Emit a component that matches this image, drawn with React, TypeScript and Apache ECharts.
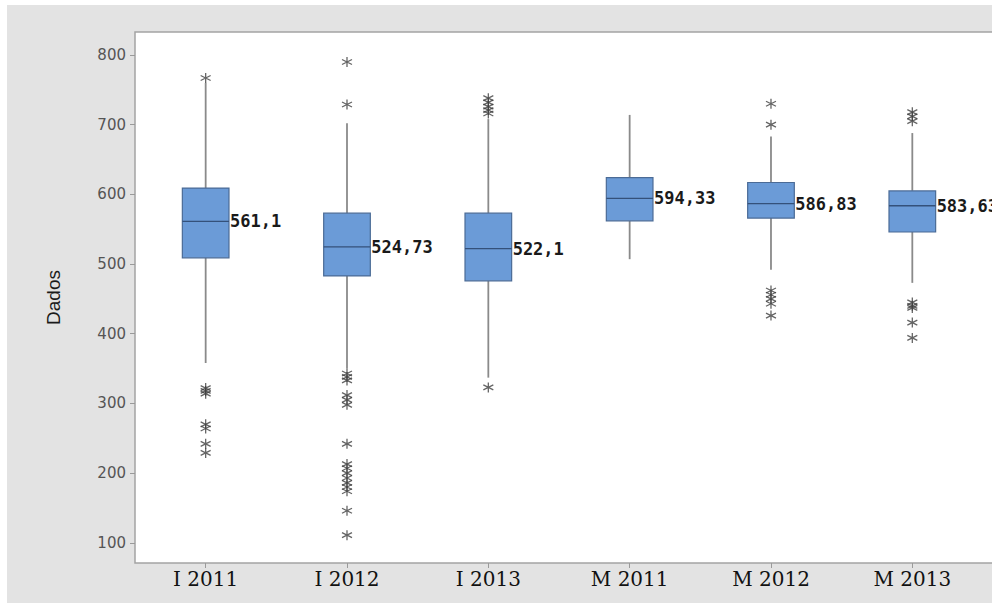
import React, { useEffect, useRef } from "react";
import * as echarts from "echarts";

const categories = ["I 2011", "I 2012", "I 2013", "M 2011", "M 2012", "M 2013"];
const whiskerLow = [358, 350, 337, 507, 492, 473];
const q1 = [509, 483, 476, 562, 566, 546];
const medians = [561.1, 524.73, 522.1, 594.33, 586.83, 583.63];
const q3 = [609, 573, 573, 624, 617, 605];
const whiskerHigh = [760, 702, 708, 714, 683, 688];
const outliers: number[][] = [
  [767, 322, 318, 314, 270, 264, 242, 229],
  [790, 729, 343, 338, 333, 312, 305, 298, 242, 213, 207, 200, 193, 186, 180, 174, 146, 111],
  [738, 732, 726, 721, 716, 323],
  [],
  [730, 700, 462, 456, 450, 443, 426],
  [718, 712, 705, 445, 440, 437, 416, 394],
];
const yMin = 71;
const yMax = 833;
const yAxisTitle = "Dados";

const STAR = "path://M0,-5L0,5M-4.33,-2.5L4.33,2.5M-4.33,2.5L4.33,-2.5";

export default function App() {
  const ref = useRef<HTMLDivElement>(null);
  useEffect(() => {
    if (!ref.current) return;
    const chart = echarts.init(ref.current, undefined, { renderer: "svg" });
    const boxData = categories.map((_, i) => [i, whiskerLow[i], q1[i], medians[i], q3[i], whiskerHigh[i]]);
    const outlierData: number[][] = [];
    outliers.forEach((arr, i) => arr.forEach((v) => outlierData.push([i, v])));

    const plotLeft = 135;
    const plotTop = 32;
    const plotHeight = 531;
    const band = 141.33;

    chart.setOption({
      animation: false,
      backgroundColor: "#ffffff",
      graphic: [
        {
          type: "rect",
          z: -10,
          shape: { x: 7, y: 5, width: 990, height: 603 },
          style: { fill: "#e3e3e3" },
        },
        {
          type: "rect",
          z: -9,
          shape: { x: plotLeft, y: plotTop, width: 870, height: plotHeight },
          style: { fill: "#ffffff", stroke: "#a4a4a4", lineWidth: 1.5 },
        },
      ],
      grid: {
        left: plotLeft,
        top: plotTop,
        width: band * categories.length,
        height: plotHeight,
        containLabel: false,
      },
      xAxis: {
        type: "category",
        data: categories,
        boundaryGap: true,
        axisLine: { show: false },
        axisTick: { show: true, alignWithLabel: true, length: 5, lineStyle: { color: "#9a9a9a" } },
        axisLabel: {
          color: "#111111",
          fontFamily: "DejaVu Serif",
          fontSize: 20,
          margin: 6,
        },
        splitLine: { show: false },
      },
      yAxis: {
        type: "value",
        min: yMin,
        max: yMax,
        minInterval: 100,
        maxInterval: 100,
        name: yAxisTitle,
        nameLocation: "middle",
        nameGap: 72,
        nameRotate: 90,
        nameTextStyle: { color: "#1a1a1a", fontFamily: "Liberation Sans", fontSize: 19 },
        axisLine: { show: false },
        axisTick: { show: true, length: 5, lineStyle: { color: "#9a9a9a" } },
        axisLabel: {
          color: "#555555",
          fontFamily: "DejaVu Sans",
          fontSize: 15,
          margin: 9,
          showMinLabel: false,
          showMaxLabel: false,
        },
        splitLine: { show: false },
      },
      series: [
        {
          type: "custom",
          z: 2,
          encode: { x: 0, y: [1, 2, 3, 4, 5] },
          data: boxData,
          renderItem: (params: any, api: any) => {
            const idx = api.value(0);
            const pLow = api.coord([idx, api.value(1)]);
            const pQ1 = api.coord([idx, api.value(2)]);
            const pMed = api.coord([idx, api.value(3)]);
            const pQ3 = api.coord([idx, api.value(4)]);
            const pHigh = api.coord([idx, api.value(5)]);
            const bw = api.size([1, 0])[0] * 0.33;
            const cx = pMed[0];
            const label = String(api.value(3)).replace(".", ",");
            return {
              type: "group",
              children: [
                {
                  type: "line",
                  shape: { x1: cx, y1: pQ3[1], x2: cx, y2: pHigh[1] },
                  style: { stroke: "#8a8a8a", lineWidth: 1.8 },
                },
                {
                  type: "line",
                  shape: { x1: cx, y1: pQ1[1], x2: cx, y2: pLow[1] },
                  style: { stroke: "#8a8a8a", lineWidth: 1.8 },
                },
                {
                  type: "rect",
                  shape: { x: cx - bw / 2, y: pQ3[1], width: bw, height: pQ1[1] - pQ3[1] },
                  style: { fill: "#6b9bd7", stroke: "#4b6b96", lineWidth: 1.2 },
                },
                {
                  type: "line",
                  shape: { x1: cx - bw / 2, y1: pMed[1], x2: cx + bw / 2, y2: pMed[1] },
                  style: { stroke: "#34517a", lineWidth: 1.3 },
                },
                {
                  type: "text",
                  x: cx + bw / 2 + 1,
                  y: pMed[1],
                  style: {
                    text: label,
                    fill: "#1a1a1a",
                    font: "bold 17px 'DejaVu Sans Mono'",
                    textAlign: "left",
                    textVerticalAlign: "middle",
                  },
                },
              ],
            };
          },
        },
        {
          type: "scatter",
          z: 3,
          data: outlierData,
          symbol: STAR,
          symbolSize: 10,
          itemStyle: { color: "rgba(0,0,0,0)", borderColor: "#3e3e3e", borderWidth: 1.3 },
        },
      ],
    });
    return () => chart.dispose();
  }, []);

  return (
    <div
      ref={ref}
      style={{ position: "absolute", left: 0, top: 0, width: 992, height: 603 }}
    />
  );
}
